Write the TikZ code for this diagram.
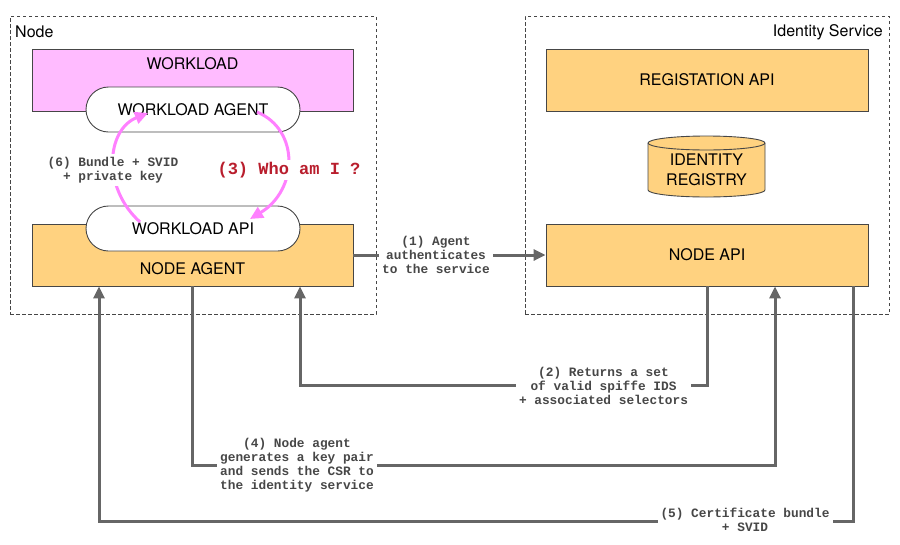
\documentclass[tikz,border=0pt]{standalone}
\usepackage{fontspec}
\setmainfont{TeX Gyre Heros}
\newfontfamily\monofont{Liberation Mono}
\usetikzlibrary{arrows.meta}
\definecolor{boxorange}{RGB}{255,210,128}
\definecolor{wlpink}{RGB}{255,187,255}
\definecolor{arcpink}{RGB}{255,128,255}
\definecolor{conngray}{RGB}{102,102,102}
\definecolor{edgegray}{RGB}{70,70,70}
\definecolor{whored}{RGB}{185,30,45}
\begin{document}
\begin{tikzpicture}[x=1pt,y=-1pt,
  region/.style={draw=edgegray, dash pattern=on 3.5pt off 2.5pt, line width=1pt, inner sep=0pt},
  sansfont/.style={font=\fontsize{16}{20}\selectfont},
  obox/.style={draw=edgegray, fill=boxorange, line width=0.9pt, inner sep=0pt, sansfont},
  pbox/.style={draw=edgegray, fill=wlpink, line width=0.9pt, inner sep=0pt, sansfont},
  pill/.style={draw=edgegray, fill=white, rounded corners=22.5pt, minimum width=214pt, minimum height=45pt, line width=0.9pt, inner sep=0pt, sansfont},
  plain/.style={inner sep=0pt, sansfont},
  conn/.style={draw=conngray, line width=3pt},
  connarrow/.style={conn, -{Triangle[length=12pt,width=11pt]}},
  clabel/.style={fill=white, font=\monofont\bfseries\fontsize{12.8}{14}\selectfont, text=black!72, align=center, inner sep=3pt},
  parc/.style={draw=arcpink, line width=3pt, -{Triangle[length=13pt,width=12pt]}},
]
\path[use as bounding box] (0,0) rectangle (900,544);

% regions
\node[region, minimum width=366pt, minimum height=298pt] (nodereg) at (193,165) {};
\node[plain, anchor=west] (nodelbl) at (15,32) {Node};
\node[region, minimum width=364pt, minimum height=298pt] (idreg) at (707,165) {};
\node[plain, anchor=east] (idlbl) at (883,32) {Identity Service};

% node side
\node[pbox, minimum width=321pt, minimum height=62pt] (workload) at (192.5,80) {};
\node[plain] (workloadtxt) at (192.5,64) {WORKLOAD};
\node[pill] (wlagent) at (193,109.5) {WORKLOAD AGENT};
\node[obox, minimum width=321pt, minimum height=62pt] (nodeagent) at (192.5,255) {};
\node[plain] (nodeagenttxt) at (192.5,269) {NODE AGENT};
\node[pill] (wlapi) at (193,228.5) {WORKLOAD API};

% identity side
\node[obox, minimum width=322pt, minimum height=62pt] (regapi) at (707,80) {REGISTATION API};
\node[obox, minimum width=322pt, minimum height=62pt] (nodeapi) at (707,255) {NODE API};
\draw[draw=edgegray, fill=boxorange, line width=0.9pt]
  (648,143) -- (648,190) arc[start angle=180, end angle=360, x radius=58.5pt, y radius=7pt]
  -- (765,143) arc[start angle=0, end angle=180, x radius=58.5pt, y radius=7pt] -- cycle;
\draw[draw=edgegray, line width=0.9pt]
  (765,143) arc[start angle=0, end angle=-180, x radius=58.5pt, y radius=7pt];
\node[plain, align=center] (registry) at (706.5,170) {IDENTITY\\REGISTRY};

% pink arcs
\coordinate (p6s) at (140,222);
\coordinate (p6e) at (148,113);
\coordinate (p3s) at (257,112);
\coordinate (p3e) at (250,219);
\draw[parc] (p6s) .. controls (102,188) and (106,130) .. (p6e);
\draw[parc] (p3s) .. controls (300,130) and (298,190) .. (p3e);
\node[clabel] (l6) at (113,170) {(6) Bundle + SVID\\+ private key};
\node[fill=white, inner sep=2pt, font=\monofont\bfseries\fontsize{17}{20}\selectfont, text=whored] (l3) at (289,170) {(3) Who am I ?};

% connectors
\draw[connarrow] (nodeagent) -- (nodeapi);
\node[clabel] (l1) at (436,255) {(1) Agent\\authenticates\\to the service};

\coordinate (c2) at (300,385);
\draw[connarrow] (nodeapi.south) |- (c2) -- (c2 |- nodeagent.south);
\node[clabel] (l2) at (603.5,386) {(2) Returns a set\\of valid spiffe IDS\\+ associated selectors};

\coordinate (c4) at (775,465);
\draw[connarrow] (nodeagent.south) |- (c4) -- (c4 |- nodeapi.south);
\node[clabel] (l4) at (297,465) {(4) Node agent\\generates a key pair\\and sends the CSR to\\the identity service};

\coordinate (c5a) at (853,521);
\coordinate (c5b) at (99,521);
\draw[connarrow] (c5a |- nodeapi.south) -- (c5a) -- (c5b) -- (c5b |- nodeagent.south);
\node[clabel] (l5) at (745,520) {(5) Certificate bundle\\+ SVID};
\end{tikzpicture}
\end{document}
